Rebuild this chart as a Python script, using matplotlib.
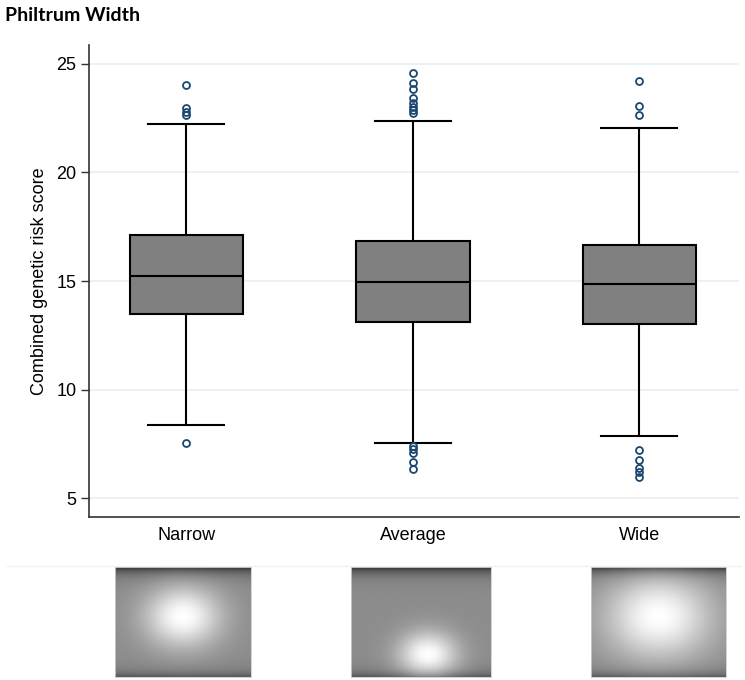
import matplotlib
matplotlib.use('Agg')
import matplotlib.pyplot as plt
import numpy as np

# Data
groups = ['Narrow', 'Average', 'Wide']
q1 = [13.49, 13.12, 13.00]
medians = [15.25, 14.97, 14.84]
q3 = [17.11, 16.83, 16.65]
whisker_low = [8.37, 7.55, 7.88]
whisker_high = [22.24, 22.36, 22.06]
fliers_narrow = [24.03, 22.97, 22.78, 22.65, 7.54]
fliers_average = [24.57, 24.09, 23.83, 23.40, 23.17, 23.02, 22.86, 22.74,
                  7.43, 7.28, 7.07, 6.68, 6.34]
fliers_wide = [24.20, 23.05, 22.63, 7.22, 6.76, 6.38, 6.21, 6.00]
yticks = [5, 10, 15, 20, 25]

plt.rcParams['font.family'] = ['Liberation Sans', 'DejaVu Sans']

fig = plt.figure(figsize=(7.45, 6.8), dpi=100)
ax = fig.add_axes([0.1195, 0.2397, 0.8725, 0.6941])

stats = []
for i, name in enumerate(groups):
    stats.append({'label': name, 'q1': q1[i], 'med': medians[i], 'q3': q3[i],
                  'whislo': whisker_low[i], 'whishi': whisker_high[i],
                  'fliers': [fliers_narrow, fliers_average, fliers_wide][i]})

ax.bxp(stats, positions=[1, 2, 3], widths=0.5, capwidths=0.335,
       patch_artist=True,
       boxprops=dict(facecolor='#808080', edgecolor='black', linewidth=1.5),
       medianprops=dict(color='black', linewidth=1.5),
       whiskerprops=dict(color='black', linewidth=1.5),
       capprops=dict(color='black', linewidth=1.5),
       flierprops=dict(marker='o', markerfacecolor='none', markeredgecolor='#1a476f',
                       markersize=5, markeredgewidth=1.3))

ax.set_xlim(0.57, 3.44)
ax.set_ylim(4.14, 25.86)
ax.set_yticks(yticks)
ax.yaxis.grid(True, color='#e8f0f2', linewidth=1.2)
ax.set_axisbelow(True)
ax.set_ylabel('Combined genetic risk score', fontsize=13, labelpad=6)
ax.tick_params(axis='y', labelsize=13, length=6, width=1, color='#333333', pad=3)
ax.tick_params(axis='x', labelsize=13, length=0, pad=7)

for side in ['top', 'right']:
    ax.spines[side].set_visible(False)
for side in ['left', 'bottom']:
    ax.spines[side].set_color('#333333')
    ax.spines[side].set_linewidth(1.2)

fig.text(0.007, 0.99, 'Philtrum Width', fontsize=14, fontweight='bold',
         family=['Lato', 'DejaVu Sans'], va='top', ha='left')

# faint separator line above the face pictures
fig.add_artist(plt.Line2D([0.01, 0.995], [1 - 566 / 680, 1 - 566 / 680],
                          color='#f2f2f2', linewidth=1))

# placeholder grey pictures of the philtrum for each group
yy, xx = np.mgrid[0:1:110j, 0:1:130j]
img_boxes = [(115, 251), (351, 491), (591, 726)]
blob_centres = [(0.5, 0.45, 0.2), (0.55, 0.8, 0.15), (0.5, 0.45, 0.28)]
for (x0, x1), (cx, cy, r) in zip(img_boxes, blob_centres):
    iax = fig.add_axes([x0 / 745, 1 - 677 / 680, (x1 - x0) / 745, 110 / 680])
    img = 0.55 + 0.45 * np.exp(-((xx - cx) ** 2 + (yy - cy) ** 2) / (2 * r ** 2))
    img -= 0.35 * np.exp(-yy / 0.06)
    img -= 0.2 * np.exp(-(1 - yy) / 0.05)
    iax.imshow(img, cmap='gray', vmin=0, vmax=1, aspect='auto')
    iax.set_xticks([])
    iax.set_yticks([])
    for s in iax.spines.values():
        s.set_color('#cccccc')
        s.set_linewidth(0.6)

fig.savefig('out.png', dpi=100, facecolor='white')
